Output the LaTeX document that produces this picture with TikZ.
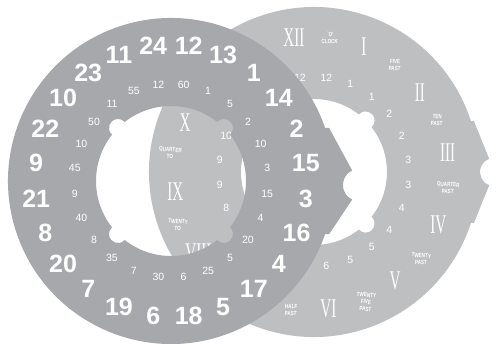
\documentclass[tikz,border=0pt]{standalone}
\usepackage{fontspec}
\setmainfont{Liberation Sans}
\newfontfamily\romfont[FakeStretch=0.56]{Liberation Serif}
\newfontfamily\wordfont[FakeStretch=0.75]{Liberation Sans}
\definecolor{frontgrey}{HTML}{A6A8AB}
\definecolor{backgrey}{HTML}{BDBFC1}

\begin{document}
\begin{tikzpicture}[x=1pt, y=1pt,
  every node/.style={text=white, inner sep=0pt},
  bignum/.style={font=\fontsize{25}{25}\selectfont\bfseries},
  smallnum/.style={font=\fontsize{10.5}{10.5}\selectfont},
  roman/.style={font=\romfont\fontsize{27}{27}\selectfont},
  word/.style={font=\wordfont\bfseries\fontsize{6.1}{7}\selectfont,
    align=center, rotate=-4}]
\useasboundingbox (0,0) rectangle (497,343);
\coordinate (back) at (314,171);
\coordinate (front) at (171,162);

% back dial (minutes in words)
\fill[backgrey, even odd rule]
  (back) ++(18:165) arc[start angle=18, end angle=342, radius=165]
  -- ++(3,0) -- (489.2,157.8) arc[start angle=250, end angle=110, radius=14]
  -- (473.9,222) -- cycle
  (back) ++(37.93:73) \foreach \a in {45,135,225,315}{
    arc[start angle=\a-93.53, end angle=\a+93.53, radius=9]
    arc[start angle=\a+7.07, end angle=\a+82.93, radius=73]} -- cycle;

\foreach \ang/\txt [count=\i] in {98.5/12, 82.5/12, 67.5/1, 52.5/1, 37.5/2,
    22.5/2, 7.5/3, -7.5/3, -22.5/4, -37.5/4, -52.5/5, -67.5/5, -82.5/6,
    157.5/10, 172.5/9, 187.5/9, 202.5/8}
  \node[smallnum] (bh\i) at ([shift={(\ang:95)}]back) {\txt};

\foreach \ang/\rad/\txt [count=\i] in {98.5/135.5/XII, 68.2/134.6/I,
    36.7/132/II, 8.1/135/III, -23/135/IV, -53.4/136/V, -84/138/VI,
    159.2/138/X, 188.2/140/IX, 215/141/VIII}
  \node[roman] (rn\i) at ([shift={(\ang:\rad)}]back) {\txt};

\foreach \ang/\rad/\txt [count=\i] in {83.2/135/{`O'\\CLOCK},
    52.9/134/{FIVE\\PAST}, 22.9/133.5/{TEN\\PAST},
    -6.8/135/{QUARTER\\PAST}, -39.1/138/{TWENTY\\PAST},
    -68.2/140/{TWENTY\\FIVE\\PAST}, -99.5/140/{HALF\\PAST},
    172.5/145/{QUARTER\\TO}, 201.3/146/{TWENTY\\TO}}
  \node[word] (wd\i) at ([shift={(\ang:\rad)}]back) {\txt};

% front dial (hours)
\fill[frontgrey, even odd rule]
  (front) ++(19:163) arc[start angle=19, end angle=341, radius=163]
  -- ++(4,0) -- (352.2,143.5) arc[start angle=245, end angle=115, radius=16]
  -- (329.1,215.1) -- cycle
  (front) ++(38.12:75) \foreach \a in {45,135,225,315}{
    arc[start angle=\a-93.44, end angle=\a+93.44, radius=9]
    arc[start angle=\a+6.88, end angle=\a+83.12, radius=75]} -- cycle;

\foreach \h in {1,...,12}{
  \pgfmathtruncatemacro\hh{\h+12}
  \pgfmathtruncatemacro\mm{5*\h}
  \node[bignum] (h\h) at ([shift={({82.5-30*\h}:136)}]front) {\h};
  \node[bignum] (hh\h) at ([shift={({97.5-30*\h}:136)}]front) {\hh};
  \node[smallnum] (sh\h) at ([shift={({97.5-30*\h}:97)}]front) {\h};
  \node[smallnum] (mn\h) at ([shift={({82.5-30*\h}:97)}]front) {\mm};
}
\end{tikzpicture}
\end{document}
